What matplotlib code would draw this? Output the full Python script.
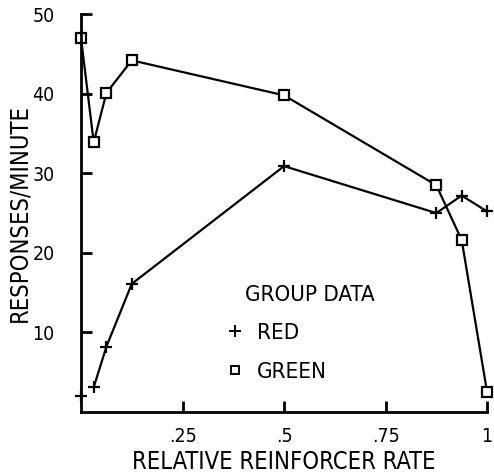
"""
Responses per minute vs relative reinforcer rate (group data)
"""

import matplotlib
matplotlib.use("Agg")
import matplotlib.pyplot as plt
from matplotlib.lines import Line2D

plt.rcParams["font.family"] = ["DejaVu Sans"]
plt.rcParams["font.stretch"] = "condensed"

# data
rel_rate = [0.0, 0.03125, 0.0625, 0.125, 0.5, 0.875, 0.9375, 1.0]
red = [2.0, 3.1, 8.2, 16.1, 30.9, 25.0, 27.2, 25.2]
green = [47.0, 33.9, 40.1, 44.2, 39.8, 28.5, 21.6, 2.5]

xticks = [0.25, 0.5, 0.75, 1.0]
xticklabels = [".25", ".5", ".75", "1"]
yticks = [10, 20, 30, 40, 50]

fig = plt.figure(figsize=(4.94, 4.74), dpi=100)
ax = fig.add_axes([0.164, 0.131, 0.822, 0.839])

lw = 1.6
# first red point sits on its own (not joined to the rest)
ax.plot(rel_rate[:1], red[:1], ls="none", marker="+", ms=9, mew=lw,
        color="black", clip_on=False)
ax.plot(rel_rate[1:], red[1:], color="black", lw=lw, marker="+", ms=9,
        mew=lw, clip_on=False)
ax.plot(rel_rate, green, color="black", lw=lw, marker="s", ms=7, mew=lw,
        mfc="white", clip_on=False)

ax.set_xlim(0, 1)
ax.set_ylim(0, 50)
ax.set_xticks(xticks)
ax.set_xticklabels(xticklabels)
ax.set_yticks(yticks)

for s in ["top", "right"]:
    ax.spines[s].set_visible(False)
for s in ["left", "bottom"]:
    ax.spines[s].set_linewidth(2)

ax.tick_params(axis="both", direction="in", length=8, width=2,
               labelsize=14)
ax.tick_params(axis="x", pad=11)
ax.tick_params(axis="y", pad=19)

ax.set_xlabel("RELATIVE REINFORCER RATE", fontsize=17, labelpad=3)
ax.set_ylabel("RESPONSES/MINUTE", fontsize=17, labelpad=1)

ax.text(0.404, 0.295, "GROUP DATA", transform=ax.transAxes, fontsize=16,
        va="center", ha="left")
handles = [
    Line2D([], [], ls="none", marker="+", ms=8, mew=1.4, color="black"),
    Line2D([], [], ls="none", marker="s", ms=6, mew=1.4, mfc="white",
           color="black"),
]
ax.legend(handles, ["RED", "GREEN"], loc="upper left",
          bbox_to_anchor=(0.318, 0.262), frameon=False, fontsize=16,
          handlelength=0.8, handletextpad=0.6, labelspacing=0.85,
          borderpad=0.2)

fig.savefig("out.png", dpi=100)
